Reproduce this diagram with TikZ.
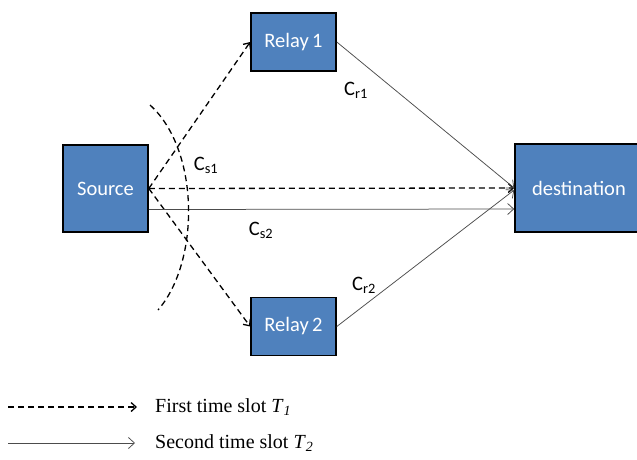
\documentclass[tikz,border=0pt]{standalone}
\usepackage{fontspec}
\setmainfont{Liberation Serif}
\newfontfamily\calib{Carlito}
\usetikzlibrary{arrows.meta}
\definecolor{boxblue}{HTML}{4F81BD}
\tikzset{
  blk/.style={draw=black,line width=1.6pt,fill=boxblue,text=white,
    font=\calib\fontsize{20.5}{24}\selectfont,inner sep=0pt},
  slotone/.style={-{Straight Barb[length=5pt,width=9pt]},line width=1.3pt,dash pattern=on 6pt off 4pt},
  slottwo/.style={-{Straight Barb[length=6pt,width=11pt]},line width=0.75pt,draw=black!70},
  chlbl/.style={font=\calib\fontsize{20.5}{24}\selectfont},
  legtxt/.style={anchor=west,font=\fontsize{20}{24}\selectfont,inner sep=0pt}
}
\begin{document}
\begin{tikzpicture}[x=1pt,y=-1pt]
\useasboundingbox (0,0) rectangle (637,459);
% the four terminals
\node[blk,minimum width=85,minimum height=87] (src) at (105.5,188.5) {Source};
\node[blk,minimum width=85,minimum height=58] (ry1) at (293.5,42) {Relay\,1};
\node[blk,minimum width=85,minimum height=58] (ry2) at (293.5,326.5) {Relay\,2};
\node[blk,minimum width=128,minimum height=88] (dst) at (579,188) {destination};
% first slot: broadcast from the source
\draw[slotone] (src.east) -- (ry1.west);
\draw[slotone] (src.east) -- (ry2.west);
\draw[slotone] (src.east) -- (dst.west);
% second slot: relays and source to destination
\draw[slottwo] ([yshift=-21pt]src.east) -- ([yshift=-21pt]dst.west);
\draw[slottwo] (ry1.east) -- (dst.west);
\draw[slottwo] (ry2.east) -- ([yshift=-2pt]dst.west);
% cut around the source
\draw[line width=1.3pt,dash pattern=on 6pt off 4pt] (150,105) .. controls (200,150) and (200,262) .. (158,310);
\node[chlbl] (cs1) at (206,165) {C\textsubscript{s1}};
\node[chlbl] (cs2) at (261,230) {C\textsubscript{s2}};
\node[chlbl] (cr1) at (356,90) {C\textsubscript{r1}};
\node[chlbl] (cr2) at (364,285) {C\textsubscript{r2}};
% legend
\node[legtxt] (t1) at (155,407) {First time slot \textit{T}\textsubscript{\textit{1}}};
\node[legtxt] (t2) at (155,443) {Second time slot \textit{T}\textsubscript{\textit{2}}};
\coordinate (l1) at (8,407);
\coordinate (l2) at (8,443);
\draw[slotone] (l1) -- ([xshift=-18pt]t1.west);
\draw[slottwo] (l2) -- ([xshift=-20pt]t2.west);
\end{tikzpicture}
\end{document}
